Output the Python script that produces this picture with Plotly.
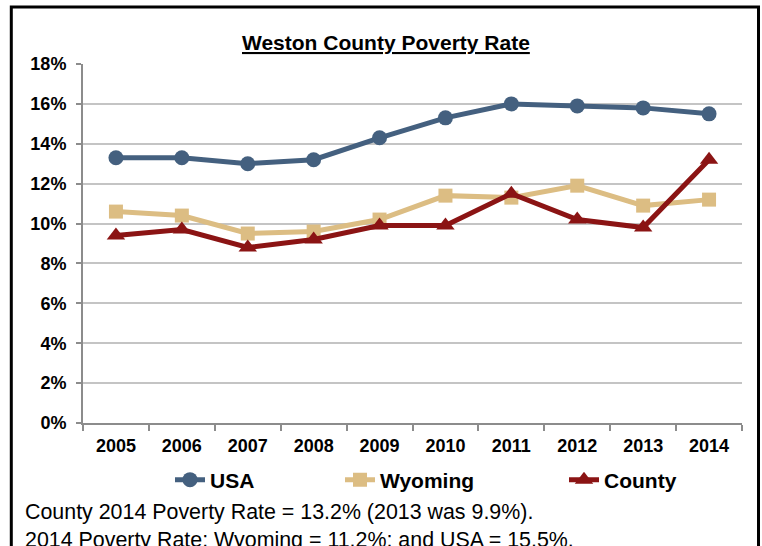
import plotly.graph_objects as go

years = ["2005", "2006", "2007", "2008", "2009", "2010", "2011", "2012", "2013", "2014"]
usa = [13.3, 13.3, 13.0, 13.2, 14.3, 15.3, 16.0, 15.9, 15.8, 15.5]
wyoming = [10.6, 10.4, 9.5, 9.6, 10.2, 11.4, 11.3, 11.9, 10.9, 11.2]
county = [9.4, 9.7, 8.8, 9.2, 9.9, 9.9, 11.5, 10.2, 9.8, 13.2]
ytick_vals = [0, 2, 4, 6, 8, 10, 12, 14, 16, 18]
ytick_text = [f"{v}%" for v in ytick_vals]

FONT = "Liberation Sans, Arial, sans-serif"

fig = go.Figure()
fig.add_trace(go.Scatter(x=years, y=usa, name="USA", mode="lines+markers", legend="legend",
                         line=dict(color="#44607f", width=5),
                         marker=dict(symbol="circle", size=15, color="#44607f")))
fig.add_trace(go.Scatter(x=years, y=wyoming, name="Wyoming", mode="lines+markers", legend="legend2",
                         line=dict(color="#dcbd83", width=5),
                         marker=dict(symbol="square", size=14, color="#dcbd83")))
fig.add_trace(go.Scatter(x=years, y=county, name="County", mode="lines+markers", legend="legend3",
                         line=dict(color="#8b1414", width=5),
                         marker=dict(symbol="triangle-up", size=16, color="#8b1414")))

W, H = 762, 546
L, R, T, B = 83, 742, 64, 423
pw, ph = R - L, B - T

def px(x):
    return (x - L) / pw

def py(y):
    return (B - y) / ph

def leg(xpix):
    return dict(orientation="h", x=px(xpix), xanchor="left", y=py(480), yanchor="middle",
                font=dict(size=21, family=FONT, color="black", weight="bold"),
                itemwidth=30, bgcolor="rgba(0,0,0,0)", borderwidth=0)

fig.update_layout(
    width=W, height=H,
    margin=dict(l=L, r=W - R, t=T, b=H - B),
    paper_bgcolor="white", plot_bgcolor="white",
    font=dict(family=FONT, color="black"),
    showlegend=True,
    legend=leg(170),
    legend2=leg(340),
    legend3=leg(564),
    xaxis=dict(type="category", showgrid=False, showline=True, linecolor="#8c8c8c", linewidth=2,
               ticks="outside", tickson="boundaries", ticklen=6, tickcolor="#8c8c8c", tickwidth=2,
               tickfont=dict(size=18, family=FONT, weight="bold"), ticklabelstandoff=5,
               range=[-0.5, 9.5]),
    yaxis=dict(range=[0, 18], tickvals=ytick_vals, ticktext=ytick_text,
               showgrid=True, gridcolor="#c4c4c4", gridwidth=1.5,
               showline=True, linecolor="#8c8c8c", linewidth=2,
               ticks="outside", ticklen=5, tickcolor="#8c8c8c", tickwidth=2,
               tickfont=dict(size=18, family=FONT, weight="bold"), ticklabelstandoff=6,
               zeroline=False),
)

fig.add_annotation(text="<b><u>Weston County Poverty Rate</u></b>", xref="paper", yref="paper",
                   x=px(386), y=py(42), xanchor="center", yanchor="middle", showarrow=False,
                   font=dict(size=21, family=FONT, color="black"))
fig.add_annotation(text="County 2014 Poverty Rate = 13.2% (2013 was 9.9%).<br>2014 Poverty Rate: Wyoming = 11.2%; and USA = 15.5%.",
                   xref="paper", yref="paper", x=px(23), y=py(526), xanchor="left", yanchor="middle",
                   align="left", showarrow=False, font=dict(size=21.4, family=FONT, color="black"))
fig.add_shape(type="rect", xref="paper", yref="paper", x0=px(11.3), x1=px(758.5), y0=py(620), y1=py(7),
              line=dict(color="black", width=3), fillcolor="rgba(0,0,0,0)", layer="above")

fig.write_html("out.html", config={"displayModeBar": False},
               post_script="document.body.style.margin='0';document.body.style.overflow='hidden';")
